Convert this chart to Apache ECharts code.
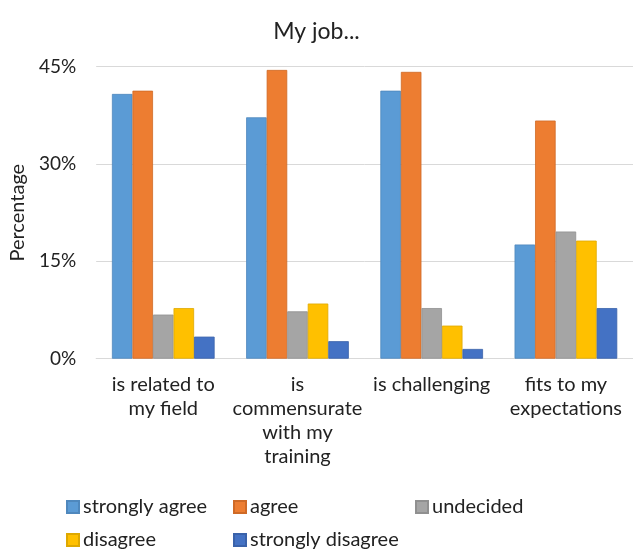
<!DOCTYPE html>
<html>
<head>
<meta charset="utf-8">
<script src="https://cdn.jsdelivr.net/npm/echarts@6/dist/echarts.min.js"></script>
<style>
html,body{margin:0;padding:0;background:#fff;}
#chart{width:633px;height:554px;}
</style>
</head>
<body>
<div id="chart"></div>
<script>
var categories = ["is related to\nmy field", "is\ncommensurate\nwith my\ntraining", "is challenging", "fits to my\nexpectations"];
var seriesNames = ["strongly agree", "agree", "undecided", "disagree", "strongly disagree"];
var stronglyAgree = [40.8, 37.2, 41.3, 17.6];
var agree = [41.3, 44.5, 44.2, 36.7];
var undecided = [6.8, 7.3, 7.8, 19.6];
var disagree = [7.8, 8.5, 5.1, 18.2];
var stronglyDisagree = [3.4, 2.7, 1.5, 7.8];
var yTicks = [0, 15, 30, 45];

var colors = ["#5B9BD5", "#ED7D31", "#A5A5A5", "#FFC000", "#4472C4"];
var borders = ["#4F88BD", "#CF6A26", "#909090", "#DEA800", "#3A62AA"];
var values = [stronglyAgree, agree, undecided, disagree, stronglyDisagree];
var FONT = "Lato";
var TXT = "#222222";

var chart = echarts.init(document.getElementById('chart'), null, {renderer: 'canvas'});

var legendPos = [
  {left: 66, top: 497},
  {left: 233, top: 497},
  {left: 415, top: 497},
  {left: 66, top: 530},
  {left: 233, top: 530}
];

var legends = seriesNames.map(function (n, i) {
  return {
    data: [n],
    left: legendPos[i].left,
    top: legendPos[i].top,
    icon: 'rect',
    itemWidth: 12,
    itemHeight: 12,
    itemGap: 0,
    padding: 0,
    selectedMode: false,
    textStyle: {fontFamily: FONT, fontSize: 20, color: TXT, padding: [0, 0, 0, -1]}
  };
});

var option = {
  animation: false,
  backgroundColor: '#ffffff',
  color: colors,
  title: {
    text: 'My job...',
    left: 'center',
    top: 15,
    textStyle: {fontFamily: FONT, fontSize: 23, fontWeight: 'normal', color: TXT}
  },
  legend: legends,
  grid: {left: 93, top: 66.7, width: 544, height: 292, containLabel: false},
  xAxis: {
    type: 'category',
    data: categories,
    axisLine: {lineStyle: {color: '#D9D9D9', width: 1}},
    axisTick: {show: false},
    axisLabel: {fontFamily: FONT, fontSize: 20, color: TXT, lineHeight: 24, margin: 14, interval: 0}
  },
  yAxis: {
    type: 'value',
    min: yTicks[0],
    max: yTicks[yTicks.length - 1],
    interval: yTicks[1] - yTicks[0],
    name: 'Percentage',
    nameLocation: 'middle',
    nameGap: 62,
    nameRotate: 90,
    nameTextStyle: {fontFamily: FONT, fontSize: 20, color: TXT},
    axisLine: {show: false},
    axisTick: {show: false},
    splitLine: {lineStyle: {color: '#D9D9D9', width: 1}},
    axisLabel: {fontFamily: FONT, fontSize: 19, color: TXT, margin: 20, formatter: '{value}%'}
  },
  series: seriesNames.map(function (n, i) {
    return {
      name: n,
      type: 'bar',
      data: values[i],
      barGap: '0%',
      barCategoryGap: '23.5%',
      itemStyle: {color: colors[i], borderColor: borders[i], borderWidth: 0.8}
    };
  })
};
chart.setOption(option);
</script>
</body>
</html>
